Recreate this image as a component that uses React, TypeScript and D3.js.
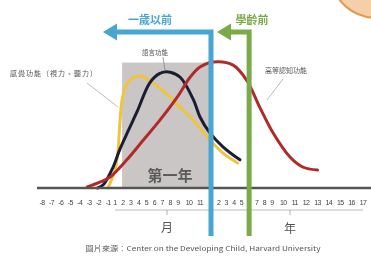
import React from 'react';
import * as d3 from 'd3';

// tick labels along the axis: months before birth, months of year one, then years
const tickLabels = [
  '-8', '-7', '-6', '-5', '-4', '-3', '-2', '-1',
  '1', '2', '3', '4', '5', '6', '7', '8', '9', '10', '11',
  '1', '2', '3', '4', '5', '6', '7', '8', '9', '10', '11', '12', '13', '14', '15', '16', '17',
];

// curves: [tick index, development level 0-100]
const sensory = [
  [7.0, 0], [8.0, 14], [8.4, 30], [8.6, 49], [8.9, 69], [9.4, 80], [10.2, 86], [11.2, 87.5],
  [12.4, 84], [13.7, 78], [15.0, 71], [16.2, 63], [17.4, 53], [18.9, 37.5], [20.6, 27], [22.5, 19.5],
];
const language = [
  [5.9, 0], [6.5, 2.5], [7.7, 16], [8.6, 30], [9.7, 45], [10.9, 61], [12.4, 82], [13.7, 89.5],
  [15.0, 90.5], [16.2, 86.5], [17.4, 69], [18.0, 55.5], [18.9, 43], [20.6, 32], [22.8, 22],
];
const higherCognition = [
  [4.8, 0.8], [6.2, 4.7], [7.3, 8.6], [9.5, 22], [11.6, 37.5], [13.7, 53], [15.9, 71], [17.1, 86.5],
  [18.0, 94.5], [19.3, 98.4], [21.9, 96], [23.7, 84], [25.4, 63], [27.1, 43], [28.6, 24], [29.7, 16.4], [31.0, 14],
];

const firstYear = [8.9, 19];
const periodLines = [
  { idx: 19, label: '一歲以前', color: '#48A6D2', tip: 103 },
  { idx: 24, label: '學齡前', color: '#7AAB48', tip: 217 },
];

const cjk = '"Noto Sans CJK TC", "Noto Sans CJK SC", sans-serif';

export default function App() {
  const width = 371;
  const height = 257;

  const x = d3.scaleLinear()
    .domain([0, 7, 8, 16, 18, 19, 27, 35])
    .range([42, 108, 115, 178, 200, 211, 272, 363]);
  const y = d3.scaleLinear().domain([0, 100]).range([188, 60]);

  const line = d3.line<number[]>()
    .x(d => x(d[0]))
    .y(d => y(d[1]))
    .curve(d3.curveCatmullRom.alpha(0.5));

  const axisY = y(0);

  return (
    <svg width={width} height={height} style={{ position: 'absolute', left: 0, top: 0, background: '#fff' }}>
      <defs>
        <filter id="soft" x="-5%" y="-5%" width="110%" height="110%">
          <feGaussianBlur stdDeviation="0.45" />
        </filter>
      </defs>
      <g filter="url(#soft)">
        {/* corner blob */}
        <ellipse cx={378} cy={-20} rx={45} ry={38} fill="#F4CFA8" stroke="#E39A55" strokeWidth={2} />

        <rect x={x(firstYear[0])} y={y(98)} width={x(firstYear[1]) - x(firstYear[0])} height={axisY - y(98)} fill="#CAC6C6" />
        <text x={170} y={181} textAnchor="middle" fontFamily={cjk} fontSize={15} fontWeight={700} fill="#5a5a5a">第一年</text>

        <path d={line(sensory as any) || ''} fill="none" stroke="#F0C43C" strokeWidth={3} strokeLinecap="round" />
        <path d={line(language as any) || ''} fill="none" stroke="#1E1E34" strokeWidth={3} strokeLinecap="round" />
        <path d={line(higherCognition as any) || ''} fill="none" stroke="#B02A2A" strokeWidth={3} strokeLinecap="round" />

        <line x1={37} x2={371} y1={axisY} y2={axisY} stroke="#555" strokeWidth={2.5} />

        {tickLabels.map((t, i) => (
          <text key={i} x={x(i)} y={205} textAnchor="middle" fontFamily="Liberation Sans, sans-serif"
            fontSize={7} letterSpacing={-0.6} fill="#3f3f3f">{t}</text>
        ))}

        <line x1={x(8)} x2={x(35)} y1={210} y2={210} stroke="#aaa" strokeWidth={0.8} />
        <line x1={167} x2={167} y1={210} y2={215} stroke="#999" strokeWidth={0.8} />
        <line x1={290} x2={290} y1={210} y2={215} stroke="#999" strokeWidth={0.8} />
        <text x={167} y={232} textAnchor="middle" fontFamily={cjk} fontSize={12} fill="#555">月</text>
        <text x={290} y={233} textAnchor="middle" fontFamily={cjk} fontSize={12} fill="#555">年</text>

        {periodLines.map(p => {
          const px = x(p.idx);
          return (
            <g key={p.label}>
              <path d={`M${px},236 L${px},32 L${p.tip + 13},32`} fill="none" stroke={p.color} strokeWidth={5} />
              <polygon points={`${p.tip},32 ${p.tip + 14},23.5 ${p.tip + 14},40.5`} fill={p.color} />
            </g>
          );
        })}
        <text x={150} y={24} textAnchor="middle" fontFamily={cjk} fontSize={11} fontWeight={700} fill="#48A6D2">一歲以前</text>
        <text x={252} y={24} textAnchor="middle" fontFamily={cjk} fontSize={11} fontWeight={700} fill="#7AAB48">學齡前</text>

        <text x={10} y={76} fontFamily={cjk} fontSize={7} fill="#555" textLength={87} lengthAdjust="spacing">感覺功能（視力、聽力）</text>
        <line x1={87} y1={83} x2={118} y2={107} stroke="#aaa" strokeWidth={0.8} />
        <text x={155} y={55} textAnchor="middle" fontFamily={cjk} fontSize={6.5} fill="#555">語言功能</text>
        <line x1={163} y1={57} x2={165} y2={70} stroke="#888" strokeWidth={0.8} />
        <text x={286} y={73} textAnchor="middle" fontFamily={cjk} fontSize={7} fill="#555">高等認知功能</text>
        <line x1={283} y1={79} x2={267} y2={100} stroke="#aaa" strokeWidth={0.8} />

        <text x={203} y={251} textAnchor="middle" fontFamily={cjk} fontSize={6.5} fill="#555"
          textLength={235} lengthAdjust="spacingAndGlyphs">圖片來源：Center on the Developing Child, Harvard University</text>
      </g>
    </svg>
  );
}
